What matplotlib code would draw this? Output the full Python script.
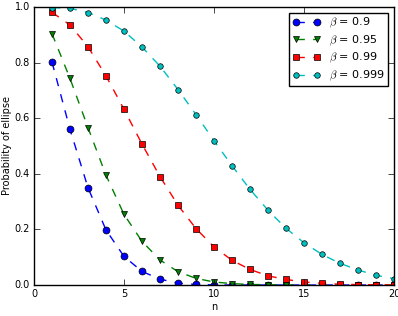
import matplotlib
matplotlib.use("Agg")
import matplotlib.pyplot as plt

plt.style.use('classic')

n = list(range(1, 21))
p_090 = [0.802, 0.560, 0.350, 0.198, 0.103, 0.049, 0.021, 0.007, 0.002, 0.0005,
         0.0001, 0, 0, 0, 0, 0, 0, 0, 0, 0]
p_095 = [0.904, 0.743, 0.566, 0.395, 0.254, 0.157, 0.090, 0.048, 0.024, 0.011,
         0.005, 0.002, 0.001, 0.0004, 0.0001, 0, 0, 0, 0, 0]
p_099 = [0.981, 0.935, 0.857, 0.752, 0.632, 0.507, 0.390, 0.287, 0.203, 0.137,
         0.089, 0.056, 0.033, 0.020, 0.011, 0.006, 0.003, 0.0015, 0.0008, 0.0004]
p_0999 = [0.998, 0.995, 0.980, 0.953, 0.913, 0.856, 0.787, 0.703, 0.613, 0.519,
          0.429, 0.344, 0.269, 0.204, 0.152, 0.110, 0.078, 0.054, 0.035, 0.023]

series = [(p_090, 'b', 'o', 5, r'$\beta$ = 0.9'),
          (p_095, 'g', 'v', 5, r'$\beta$ = 0.95'),
          (p_099, 'r', 's', 5, r'$\beta$ = 0.99'),
          (p_0999, 'c', 'o', 4, r'$\beta$ = 0.999')]

fig = plt.figure(figsize=(3.98, 3.16), dpi=100, facecolor='white')
ax = fig.add_axes([0.0854, 0.098, 0.9046, 0.88])
for vals, c, m, ms, lab in series:
    ax.plot(n, vals, linestyle='--', color=c, marker=m, markersize=ms,
            markeredgecolor='k', markeredgewidth=0.5, linewidth=1, label=lab)

ax.set_xlim(0, 20)
ax.set_ylim(0, 1)
ax.set_xticks([0, 5, 10, 15, 20])
ax.set_yticks([0.0, 0.2, 0.4, 0.6, 0.8, 1.0])
ax.tick_params(labelsize=7, length=4, pad=3)
ax.set_xlabel('n', fontsize=7, labelpad=2)
ax.set_ylabel('Probability of ellipse', fontsize=7, labelpad=2)
ax.legend(loc='upper right', fontsize=8, numpoints=2, handlelength=2.5,
          labelspacing=0.3, borderpad=0.3, handletextpad=0.8)
fig.savefig('out.png', dpi=100, facecolor='white')
